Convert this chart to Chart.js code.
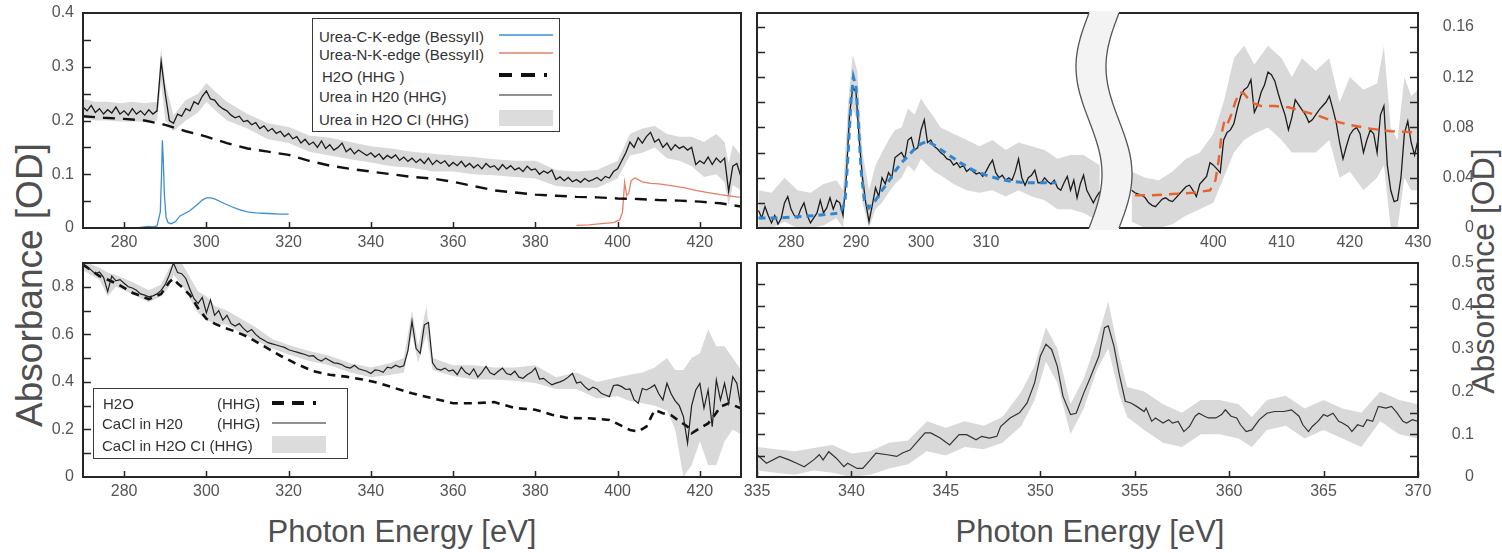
<!DOCTYPE html>
<html><head><meta charset="utf-8">
<script src="https://cdn.jsdelivr.net/npm/chart.js@4.4.0/dist/chart.umd.min.js"></script>
<style>
html,body{margin:0;padding:0;background:#fff;}
body{width:1502px;height:553px;overflow:hidden;position:relative;font-family:"Liberation Sans",Arial,sans-serif;}
canvas{position:absolute;}
.title{position:absolute;color:#4f4f4f;white-space:nowrap;line-height:1;}
.leg{position:absolute;background:#fff;border:1.5px solid #3a3a3a;box-sizing:border-box;}
.leg span{position:absolute;font-size:15px;color:#333;white-space:nowrap;line-height:1;transform:translateY(-50%);}
.leg svg{position:absolute;left:0;top:0;}
#ov{position:absolute;left:0;top:0;}
</style></head><body>

<div class="title" style="left:29px;top:285px;font-size:37px;transform:translate(-50%,-50%) rotate(-90deg);">Absorbance [OD]</div>
<div class="title" style="left:1483px;top:271px;font-size:32px;transform:translate(-50%,-50%) rotate(-90deg);">Absorbance [OD]</div>
<div class="title" style="left:402px;top:531px;font-size:31px;transform:translate(-50%,-50%);">Photon Energy [eV]</div>
<div class="title" style="left:1090px;top:531px;font-size:31px;transform:translate(-50%,-50%);">Photon Energy [eV]</div>

<script>
// ---------------- DATA ----------------
function grid(start, step, n){ const a=[]; for(let i=0;i<n;i++) a.push(+(start+i*step).toFixed(2)); return a; }

// Top-left: Urea in H2O (HHG), 270..430 eV step 1
const tlUreaE = grid(270, 1, 161);
const tlUreaA = [
 .225,.218,.228,.215,.222,.212,.220,.214,.225,.212,
 .218,.210,.222,.212,.218,.210,.220,.212,.218,.310,
 .250,.200,.195,.212,.208,.222,.218,.235,.230,.245,
 .255,.240,.238,.228,.222,.218,.210,.205,.208,.198,
 .200,.192,.196,.185,.190,.180,.185,.176,.180,.170,
 .176,.166,.170,.158,.165,.155,.160,.150,.162,.148,
 .155,.145,.150,.158,.142,.148,.138,.145,.140,.135,
 .140,.132,.138,.128,.135,.130,.136,.126,.132,.124,
 .130,.122,.128,.120,.130,.118,.126,.120,.125,.115,
 .122,.116,.124,.114,.120,.112,.118,.110,.120,.113,
 .116,.108,.118,.110,.116,.108,.112,.105,.115,.108,
 .110,.100,.106,.102,.108,.090,.095,.088,.094,.086,
 .090,.085,.092,.087,.090,.094,.088,.096,.093,.105,
 .110,.125,.140,.160,.150,.168,.158,.170,.178,.160,
 .165,.150,.158,.145,.155,.148,.152,.145,.150,.118,
 .125,.120,.132,.118,.130,.122,.130,.068,.115,.120,
 .095];
const tlBandE  = [270,273,276,279,282,285,288,289,290,292,295,298,300,302,305,310,315,320,325,330,335,340,345,350,355,360,365,370,375,380,385,390,395,400,403,406,409,412,415,418,421,424,426,427,428,430];
const tlBandLo = [.205,.2,.2,.198,.198,.198,.2,.27,.2,.18,.2,.215,.235,.22,.2,.185,.165,.158,.142,.135,.128,.122,.115,.112,.105,.105,.1,.098,.095,.092,.078,.075,.075,.092,.135,.14,.15,.13,.125,.115,.095,.1,.085,.04,.08,.07];
const tlBandHi = [.24,.235,.235,.232,.235,.232,.235,.335,.27,.21,.238,.25,.27,.255,.235,.212,.195,.188,.172,.168,.16,.152,.148,.142,.138,.135,.132,.128,.125,.125,.108,.105,.108,.125,.175,.185,.19,.175,.17,.17,.16,.175,.16,.12,.155,.135];
const tlH2oE = grid(270, 5, 33);
const tlH2oA = [.208,.205,.203,.2,.192,.18,.17,.158,.148,.142,.136,.125,.116,.11,.105,.1,.095,.092,.086,.078,.07,.066,.062,.06,.058,.057,.055,.054,.052,.051,.049,.046,.04];
const tlCkE = [283,285,286,287,288,288.8,289.1,289.3,289.5,289.8,290.2,290.7,291.5,292.5,293.5,294.5,296,298,299,300,301,302,304,306,308,310,312,315,318,320];
const tlCkA = [0,.002,.003,.002,.004,.03,.1,.163,.13,.06,.02,.01,.008,.012,.022,.026,.032,.045,.052,.056,.056,.054,.047,.04,.034,.03,.028,.027,.026,.026];
const tlNkE = [390,393,396,399,400.5,401.2,401.7,402.2,402.7,403.3,404.2,405,406,408,410,413,416,419,422,425,428,430];
const tlNkA = [.005,.006,.008,.01,.015,.03,.085,.06,.065,.088,.093,.09,.086,.083,.082,.079,.075,.07,.066,.062,.059,.057];

// Bottom-left: CaCl in H2O (HHG), 270..430 step 1
const blCaE = grid(270, 1, 161);
const blCaA = [
 .895,.885,.870,.855,.862,.840,.780,.845,.825,.830,
 .815,.800,.795,.785,.770,.765,.758,.762,.770,.785,
 .810,.850,.900,.860,.855,.835,.790,.750,.730,.755,
 .690,.745,.680,.700,.660,.680,.645,.635,.645,.625,
 .610,.620,.600,.585,.575,.565,.560,.555,.550,.545,
 .535,.530,.525,.520,.515,.508,.510,.495,.488,.500,
 .490,.480,.478,.472,.462,.458,.470,.455,.450,.445,
 .435,.450,.448,.440,.462,.458,.470,.462,.468,.530,
 .655,.540,.520,.640,.650,.480,.455,.450,.458,.445,
 .450,.430,.462,.440,.430,.455,.420,.440,.465,.438,
 .430,.445,.458,.435,.430,.445,.420,.415,.430,.440,
 .458,.412,.415,.400,.388,.395,.400,.408,.420,.436,
 .395,.400,.380,.366,.378,.370,.352,.345,.338,.385,
 .387,.380,.368,.370,.325,.310,.372,.366,.375,.387,
 .350,.324,.394,.350,.320,.300,.254,.142,.300,.366,
 .394,.290,.366,.212,.408,.324,.394,.310,.422,.394,
 .290];
const blBandE  = [270,274,276,278,282,286,289,291,292,294,296,298,300,302,305,308,312,316,320,325,330,335,340,345,348,350,351.5,353.5,355,360,365,370,375,380,385,390,395,400,403,406,409,412,414,416,418,420,422,424,426,428,430];
const blBandLo = [.87,.83,.76,.8,.77,.735,.76,.8,.85,.81,.75,.69,.66,.645,.64,.61,.575,.54,.515,.488,.47,.44,.42,.43,.44,.6,.48,.6,.45,.425,.41,.41,.405,.395,.37,.37,.33,.34,.32,.31,.3,.28,.2,0,.05,.15,.05,.05,.15,.2,.18];
const blBandHi = [.91,.88,.86,.85,.82,.785,.81,.88,.9,.9,.84,.78,.76,.72,.7,.67,.63,.58,.555,.53,.51,.478,.46,.48,.5,.7,.55,.72,.5,.47,.47,.46,.46,.47,.42,.44,.4,.42,.43,.44,.46,.5,.45,.45,.5,.52,.62,.55,.55,.5,.45];
const blH2oE = [270,274,278,282,286,289,291,292,293,294,296,298,300,302,304,307,310,314,318,322,326,330,334,338,342,346,350,355,360,365,370,375,380,384,388,393,398,401,403,405,407,409,411,413,415,417,418,420,422,424,425,427,430];
const blH2oA = [.893,.845,.815,.775,.748,.77,.82,.835,.815,.8,.765,.71,.665,.645,.63,.612,.59,.55,.51,.475,.445,.43,.422,.41,.395,.373,.352,.331,.31,.31,.315,.29,.283,.262,.248,.247,.24,.215,.198,.191,.212,.282,.268,.26,.235,.212,.184,.205,.225,.27,.296,.31,.289];

// Top-right, C-edge part: 275..327.5 step 0.5
const trcE = grid(275, 0.5, 106);
const trcA = [
 .014,.008,.017,.010,.004,.010,.003,.008,.020,.025,
 .015,.010,.008,.015,.020,.010,.004,.008,.012,.022,
 .012,.016,.024,.015,.022,.020,.010,.040,.090,.112,
 .108,.070,.040,.020,.005,.018,.032,.025,.040,.035,
 .044,.040,.056,.058,.060,.055,.070,.072,.062,.064,
 .078,.086,.068,.070,.065,.063,.060,.058,.055,.054,
 .050,.052,.048,.050,.045,.047,.045,.043,.044,.041,
 .045,.050,.054,.044,.040,.042,.038,.040,.038,.045,
 .055,.040,.034,.040,.042,.046,.036,.036,.040,.037,
 .035,.038,.032,.030,.036,.041,.030,.038,.024,.035,
 .042,.030,.025,.020,.025,.029];
const trcBandE  = [275,277,279,281,283,285,287,288,288.8,289.5,290.2,291,292,293,294,295,296,297,298,299,300,301,302,303,305,307,309,311,313,315,317,319,321,323,325,327.5];
const trcBandLo = [0,0,.005,0,0,.002,.008,0,.06,.095,.085,.02,0,.015,.02,.028,.035,.04,.05,.045,.055,.05,.045,.042,.035,.03,.028,.03,.025,.03,.025,.022,.015,.015,.012,.005];
const trcBandHi = [.03,.028,.04,.03,.028,.035,.038,.03,.1,.138,.125,.06,.03,.05,.06,.07,.078,.08,.095,.09,.103,.095,.088,.08,.075,.07,.065,.07,.062,.068,.065,.062,.055,.058,.058,.05];
const trcFitE = [275,278,281,284,286,287.5,288.3,288.8,289.2,289.6,290,290.4,290.8,291.3,292,293,294,295,296,297,298,299,300,301,302,304,306,308,310,312,314,316,318,320.8];
const trcFitA = [.008,.008,.009,.01,.011,.012,.02,.06,.1,.12,.112,.08,.045,.022,.016,.022,.03,.037,.045,.052,.057,.063,.067,.069,.066,.059,.052,.046,.042,.039,.037,.036,.036,.036];

// Top-right, N-edge part: 388..430 step 0.5
const trnE = grid(388, 0.5, 85);
const trnA = [
 .030,.028,.027,.026,.024,.020,.018,.017,.020,.023,
 .024,.022,.021,.024,.027,.030,.033,.034,.030,.025,
 .035,.038,.041,.052,.050,.047,.044,.070,.076,.078,
 .083,.095,.105,.110,.112,.118,.092,.098,.108,.114,
 .124,.122,.117,.107,.098,.090,.078,.088,.102,.098,
 .094,.090,.084,.086,.090,.094,.097,.100,.105,.095,
 .084,.068,.055,.065,.074,.078,.080,.075,.060,.070,
 .078,.075,.060,.090,.097,.050,.030,.021,.022,.040,
 .075,.085,.068,.058,.070];
const trnBandE  = [388,390,392,394,396,398,400,401.5,403,404.5,406,408,410,411.5,413,415,417,418.5,420,422,424,425,426,427,428,429,430];
const trnBandLo = [.005,0,0,.003,.01,.015,.02,.04,.06,.07,.075,.08,.07,.06,.06,.06,.07,.04,.045,.03,.04,.05,0,0,.04,.03,.03];
const trnBandHi = [.045,.04,.038,.045,.055,.06,.075,.1,.135,.145,.13,.145,.135,.12,.135,.125,.135,.1,.12,.11,.115,.145,.08,.07,.12,.105,.11];
const trnFitE = [388.5,391,394,397,399.5,400.3,400.8,401.2,401.6,402,402.6,403.2,403.8,404.5,405.5,407,409,411,413,415,417,420,423,426,430];
const trnFitA = [.026,.026,.027,.028,.03,.038,.055,.075,.085,.082,.09,.1,.108,.107,.1,.097,.097,.096,.093,.09,.086,.082,.079,.077,.076];

// Bottom-right: CaCl in H2O zoom, 335..370
const brE = [335.0,335.5,336.2,336.7,337.1,337.5,338.0,338.3,338.5,338.8,339.2,339.6,339.8,340.3,340.6,341.0,341.3,341.9,342.4,342.7,343.1,343.5,343.9,344.2,344.7,345.2,345.7,346.1,346.6,346.9,347.3,347.7,347.9,348.4,348.9,349.3,349.7,350.0,350.3,350.6,350.9,351.2,351.6,351.9,352.3,352.6,353.1,353.4,353.6,353.9,354.2,354.5,354.8,355.1,355.5,355.6,355.9,356.1,356.5,356.8,357.0,357.3,357.6,357.9,358.2,358.4,358.7,358.9,359.3,359.6,359.8,360.1,360.4,360.6,360.9,361.2,361.6,362.0,362.4,362.9,363.3,363.7,363.9,364.2,364.4,364.7,365.0,365.2,365.5,365.8,366.0,366.3,366.5,366.8,367.1,367.3,367.6,367.9,368.3,368.6,368.9,369.2,369.4,369.7,370.0];
const brA = [.052,.032,.048,.040,.032,.024,.040,.052,.040,.059,.044,.024,.032,.020,.020,.040,.056,.052,.048,.056,.063,.083,.103,.103,.091,.075,.099,.099,.087,.095,.091,.095,.118,.138,.150,.173,.220,.282,.310,.298,.259,.189,.146,.149,.196,.227,.282,.349,.353,.306,.236,.177,.173,.165,.153,.161,.130,.138,.126,.134,.126,.130,.106,.118,.142,.149,.142,.138,.138,.146,.157,.142,.138,.122,.106,.110,.134,.149,.153,.153,.157,.142,.122,.106,.118,.130,.146,.142,.149,.130,.126,.118,.106,.122,.118,.134,.130,.165,.161,.165,.149,.130,.126,.134,.130];
const brBandE  = [335,336,337,338,339,340,341,342,343,344,345,346,347,348,349,349.7,350.3,350.9,351.6,352.3,353,353.6,354.2,354.6,355.5,356.5,357.5,358.5,359.5,360.5,361.2,362,363,364,365,366,367,368,369,370];
const brBandLo = [.015,.01,.005,.015,.01,0,.005,.02,.03,.06,.05,.07,.065,.08,.12,.18,.27,.22,.1,.16,.25,.3,.19,.14,.11,.08,.07,.1,.1,.09,.07,.11,.12,.09,.11,.09,.07,.13,.1,.09];
const brBandHi = [.07,.065,.06,.068,.075,.055,.06,.08,.085,.13,.115,.13,.12,.14,.2,.26,.35,.3,.17,.23,.32,.41,.28,.21,.2,.17,.15,.18,.18,.17,.14,.18,.19,.16,.18,.16,.15,.2,.18,.17];

// Tick labels and tick marks
const tlXTicks = [280,300,320,340,360,380,400,420];
const tlYTicks = [0,0.1,0.2,0.3,0.4];
const tlYMarks = [0.05,0.1,0.15,0.2,0.25,0.3,0.35];
const blXTicks = [280,300,320,340,360,380,400,420];
const blYTicks = [0,0.2,0.4,0.6,0.8];
const blYMarks = [0.1,0.2,0.3,0.4,0.5,0.6,0.7,0.8];
const trcXTicks = [280,290,300,310];
const trnXTicks = [400,410,420,430];
const trYTicks = [0,0.04,0.08,0.12,0.16];
const trYMarks = [0.02,0.04,0.06,0.08,0.1,0.12,0.14,0.16];
const brXTicks = [335,340,345,350,355,360,365,370];
const brYTicks = [0,0.1,0.2,0.3,0.4,0.5];
const brYMarks = [0.05,0.1,0.15,0.2,0.25,0.3,0.35,0.4,0.45];

// ---------------- RENDER ----------------
const FONT = '"Liberation Sans", Arial, sans-serif';
const TICKC = '#555';
const BAND = '#d9d9d9';
function pts(xs, ys){ const n=Math.min(xs.length, ys.length), o=[]; for(let i=0;i<n;i++) o.push({x:xs[i], y:ys[i]}); return o; }
function line(xs, ys, color, w, dash, order){ return {data:pts(xs,ys), borderColor:color, borderWidth:w, borderDash:dash||[], pointRadius:0, fill:false, tension:0, order:order||1}; }
function band(xs, lo, hi){ return [
  {data:pts(xs,lo), borderColor:'rgba(0,0,0,0)', borderWidth:0, pointRadius:0, fill:false, order:21},
  {data:pts(xs,hi), borderColor:'rgba(0,0,0,0)', borderWidth:0, pointRadius:0, fill:'-1', backgroundColor:BAND, order:20}
]; }

const framePlugin = {
  id:'frame',
  afterDatasetsDraw(chart, args, o){
    const {ctx, chartArea:a, scales:{x, y}} = chart;
    ctx.save();
    ctx.strokeStyle = '#262626'; ctx.lineWidth = 2; ctx.lineCap = 'square';
    ctx.beginPath();
    const s = o.sides || 'tlbr';
    if (s.includes('t')) { ctx.moveTo(a.left, a.top); ctx.lineTo(a.right, a.top); }
    if (s.includes('b')) { ctx.moveTo(a.left, a.bottom); ctx.lineTo(a.right, a.bottom); }
    if (s.includes('l')) { ctx.moveTo(a.left, a.top); ctx.lineTo(a.left, a.bottom); }
    if (s.includes('r')) { ctx.moveTo(a.right, a.top); ctx.lineTo(a.right, a.bottom); }
    ctx.stroke();
    ctx.lineWidth = 1.5; ctx.lineCap = 'butt';
    ctx.beginPath();
    for (const v of (o.yMarks||[])) {
      const py = Math.round(y.getPixelForValue(v)) + 0.5;
      if (o.yMarkSide === 'left' || o.yMarkSide === 'both') { ctx.moveTo(a.left, py); ctx.lineTo(a.left + 8, py); }
      if (o.yMarkSide === 'right' || o.yMarkSide === 'both') { ctx.moveTo(a.right, py); ctx.lineTo(a.right - 8, py); }
    }
    for (const v of (o.xMarks||[])) {
      const px = Math.round(x.getPixelForValue(v)) + 0.5;
      ctx.moveTo(px, a.bottom); ctx.lineTo(px, a.bottom - 6);
    }
    ctx.stroke();
    ctx.restore();
  }
};

const PAD = 24;
function build(cfg){
  const a = cfg.area, lw = cfg.lw||0, rw = cfg.rw||0, bh = 30;
  const W = (a.r-a.l) + lw + rw + 2*PAD, H = (a.b-a.t) + bh + 2*PAD;
  const cv = document.createElement('canvas');
  cv.width = W; cv.height = H;
  cv.style.left = (a.l - lw - PAD) + 'px'; cv.style.top = (a.t - PAD) + 'px';
  cv.style.width = W + 'px'; cv.style.height = H + 'px';
  document.body.appendChild(cv);
  new Chart(cv, {
    type:'line',
    data:{datasets:cfg.datasets},
    options:{
      responsive:false, animation:false, devicePixelRatio:1, events:[],
      layout:{padding:PAD},
      plugins:{legend:{display:false}, tooltip:{enabled:false}, frame:cfg.frame},
      scales:{
        x:{type:'linear', position:'bottom', min:cfg.xMin, max:cfg.xMax,
           afterFit:s=>{ s.height = bh; },
           afterBuildTicks:s=>{ s.ticks = cfg.xTicks.map(v=>({value:v})); },
           grid:{display:false, drawTicks:false}, border:{display:false},
           ticks:{display:true, padding:5, color:TICKC, font:{family:FONT, size:16}, maxRotation:0, autoSkip:false, callback:v=>String(v)}},
        y:{type:'linear', position:cfg.yPos, min:cfg.yMin, max:cfg.yMax,
           afterFit:s=>{ s.width = cfg.yPos==='left' ? lw : rw; },
           afterBuildTicks:s=>{ s.ticks = (cfg.yTicks||[]).map(v=>({value:v})); },
           grid:{display:false, drawTicks:false}, border:{display:false},
           ticks:{display:!!cfg.yLabels, padding:cfg.yPad||9, crossAlign:(cfg.yPos==='left' ? 'near' : 'far'), color:TICKC, font:{family:FONT, size:16}, autoSkip:false, callback:v=>String(v)}}
      }
    },
    plugins:[framePlugin]
  });
}

// Top-left
build({area:{l:83,t:13,r:741,b:228}, lw:60, xMin:270, xMax:430, yMin:0, yMax:0.4, yPos:'left', yLabels:true,
  xTicks:tlXTicks, yTicks:tlYTicks,
  frame:{sides:'tlbr', yMarks:tlYMarks, yMarkSide:'left', xMarks:tlXTicks},
  datasets:[
    line(tlUreaE, tlUreaA, '#1c1c1c', 1.3, [], 2),
    line(tlH2oE, tlH2oA, '#111', 2.4, [12,8], 3),
    line(tlCkE, tlCkA, '#3d8fd4', 1.3, [], 4),
    line(tlNkE, tlNkA, '#e47f68', 1.3, [], 4),
    ...band(tlBandE, tlBandLo, tlBandHi)
  ]});

// Bottom-left
build({area:{l:83,t:263,r:741,b:477}, lw:60, xMin:270, xMax:430, yMin:0, yMax:0.9, yPos:'left', yLabels:true,
  xTicks:blXTicks, yTicks:blYTicks,
  frame:{sides:'tlbr', yMarks:blYMarks, yMarkSide:'left', xMarks:blXTicks},
  datasets:[
    line(blCaE, blCaA, '#222', 1.2, [], 2),
    line(blH2oE, blH2oA, '#111', 2.6, [8,6], 3),
    ...band(blBandE, blBandLo, blBandHi)
  ]});

// Top-right, C-edge part
build({area:{l:757,t:13,r:1105,b:228}, lw:0, xMin:274.77, xMax:328.3, yMin:0, yMax:0.171, yPos:'left', yLabels:false,
  xTicks:trcXTicks, yTicks:[],
  frame:{sides:'tlb', yMarks:trYMarks, yMarkSide:'left', xMarks:[]},
  datasets:[
    line(trcE, trcA, '#1c1c1c', 1.3, [], 3),
    line(trcFitE, trcFitA, '#2f86d2', 3, [7,5], 2),
    ...band(trcBandE, trcBandLo, trcBandHi)
  ]});

// Top-right, N-edge part
build({area:{l:1105,t:13,r:1418,b:228}, rw:56, xMin:384.1, xMax:430, yMin:0, yMax:0.171, yPos:'right', yLabels:true, yPad:7,
  xTicks:trnXTicks, yTicks:trYTicks,
  frame:{sides:'tbr', yMarks:trYMarks, yMarkSide:'right', xMarks:[]},
  datasets:[
    line(trnE, trnA, '#1c1c1c', 1.3, [], 3),
    line(trnFitE, trnFitA, '#e8622e', 2.4, [10,7], 2),
    ...band(trnBandE, trnBandLo, trnBandHi)
  ]});

// Bottom-right
build({area:{l:757,t:263,r:1418,b:477}, rw:56, xMin:335, xMax:370, yMin:0, yMax:0.5, yPos:'right', yLabels:true, yPad:9,
  xTicks:brXTicks, yTicks:brYTicks,
  frame:{sides:'tlbr', yMarks:brYMarks, yMarkSide:'both', xMarks:brXTicks},
  datasets:[
    line(brE, brA, '#333', 1.2, [], 2),
    ...band(brBandE, brBandLo, brBandHi)
  ]});

// Axis break (S-shaped gap) overlay
(function(){
  const ns = 'http://www.w3.org/2000/svg';
  const svg = document.createElementNS(ns, 'svg');
  svg.setAttribute('id','ov'); svg.setAttribute('width','1502'); svg.setAttribute('height','553');
  function cx(x0, y){ const yy = Math.min(Math.max(y,13),228); return x0 - 13*Math.sin(2*Math.PI*(yy-13)/215); }
  const L = [], R = [];
  for (let y=11; y<=230; y+=1) { L.push([cx(1089,y), y]); R.push([cx(1119,y), y]); }
  const poly = L.concat(R.slice().reverse()).map(p=>p[0].toFixed(1)+','+p[1]).join(' ');
  const pg = document.createElementNS(ns,'polygon');
  pg.setAttribute('points', poly); pg.setAttribute('fill','#f3f3f3'); svg.appendChild(pg);
  for (const x0 of [1089,1119]) {
    const pl = document.createElementNS(ns,'polyline');
    const pp = []; for (let y=13; y<=228; y+=1) pp.push(cx(x0,y).toFixed(1)+','+y);
    pl.setAttribute('points', pp.join(' ')); pl.setAttribute('fill','none');
    pl.setAttribute('stroke','#555'); pl.setAttribute('stroke-width','1.3');
    svg.appendChild(pl);
  }
  document.body.appendChild(svg);
})();
</script>

<!-- Top-left legend -->
<div class="leg" style="left:312px;top:18px;width:248px;height:114px;">
  <span style="left:6px;top:17px;">Urea-C-K-edge (BessyII)</span>
  <span style="left:6px;top:35px;">Urea-N-K-edge (BessyII)</span>
  <span style="left:9px;top:57px;">H2O (HHG )</span>
  <span style="left:6px;top:77px;">Urea in H20 (HHG)</span>
  <span style="left:6px;top:100px;">Urea in H2O CI (HHG)</span>
  <svg width="246" height="112">
    <line x1="186" y1="16" x2="240" y2="16" stroke="#3d8fd4" stroke-width="1.5"/>
    <line x1="186" y1="34" x2="240" y2="34" stroke="#e47f68" stroke-width="1.5"/>
    <line x1="186" y1="56" x2="240" y2="56" stroke="#111" stroke-width="4" stroke-dasharray="13,9,14,9,3,20"/>
    <line x1="186" y1="76" x2="239" y2="76" stroke="#222" stroke-width="1.2"/>
    <rect x="186" y="91" width="54" height="16" fill="#dcdcdc"/>
  </svg>
</div>

<!-- Bottom-left legend -->
<div class="leg" style="left:93px;top:388px;width:255px;height:71px;">
  <span style="left:9px;top:14px;">H2O</span>
  <span style="left:123px;top:14px;">(HHG)</span>
  <span style="left:8px;top:34px;">CaCl in H20</span>
  <span style="left:123px;top:34px;">(HHG)</span>
  <span style="left:8px;top:56px;">CaCl in H2O CI (HHG)</span>
  <svg width="253" height="69">
    <line x1="178" y1="14" x2="233" y2="14" stroke="#111" stroke-width="4" stroke-dasharray="12,8,12,9,3,20"/>
    <line x1="178" y1="34" x2="232" y2="34" stroke="#222" stroke-width="1.2"/>
    <rect x="178" y="47" width="54" height="17" fill="#dcdcdc"/>
  </svg>
</div>
</body></html>
